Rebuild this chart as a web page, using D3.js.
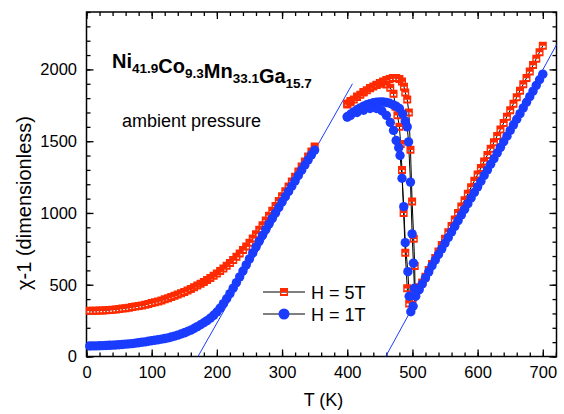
<!DOCTYPE html>
<html>
<head>
<meta charset="utf-8">
<script src="https://cdn.jsdelivr.net/npm/d3@7"></script>
<style>
body { margin: 0; background: #fff; }
text { font-family: "Liberation Sans", Arial, Helvetica, sans-serif; fill: #000; }
</style>
</head>
<body>
<script>
// ---- data (T in K, chi^-1 dimensionless) ----
// low temperature run, both fields
var tLow = [5,10,15,20,25,30,35,40,45,50, 55,60,65,70,75,80,85,90,95,100,
            105,110,115,120,125,130,135,140,145,150, 155,160,165,170,175,180,185,190,195,200,
            205,210,215,220,225,230,235,240,245,250, 255,260,265,270,275,280,285,290,295,300,
            305,310,315,320,325,330,335,340,345,350];
var red5TLow = [318,318,319,320,321,322,324,326,328,331, 334,337,340,344,348,352,356,361,366,372,
                378,384,391,398,406,414,423,432,441,450, 460,471,482,494,506,519,533,547,562,578,
                595,613,632,652,673,695,718,742,767,793, 822,852,883,915,948,981,1015,1049,1083,1117,
                1151,1185,1219,1253,1288,1323,1358,1393,1428,1463];
var blue1TLow = [73,74,74,75,76,77,78,79,80,82, 84,86,88,90,93,96,99,102,106,110,
                 113,117,121,125,130,136,142,149,157,165, 174,184,195,208,221,235,250,267,287,310,
                 337,368,402,438,476,515,555,596,638,680, 722,763,804,844,884,923,962,1000,1038,1076,
                 1113,1150,1187,1224,1261,1298,1334,1370,1405,1438];

// high temperature run, H = 5T : heating then cooling
var tRedHeat = [400,405,410,415,420,425,430,435,440,445,450,455,460,465,470,475,480,484,487,489,
                492,494.5,497,499.5,502,503.5,504,
                510,515,520,525,530,535,540,545,550,555,560,565,570,575,580,585,590,595,600,
                605,610,615,620,625,630,635,640,645,650,655,660,665,670,675,680,685,690,695,700];
var red5THeat = [1755,1772,1790,1807,1823,1839,1854,1868,1881,1893,1905,1916,1926,1934,1940,1941,1934,1915,1880,1840,
                 1790,1700,1440,1079,820,630,470,
                 480,515,556,602,645,686,731,776,821,866,910,955,1000,1045,1089,1134,1179,1224,1268,
                 1313,1358,1403,1448,1492,1537,1582,1627,1671,1716,1761,1806,1851,1896,1940,1985,2030,2075,2120,2165];
var tRedCool = [510,505,500,495,492,489,486.5,484,482,480,477,474,471,466,460,452,445,435,425,415,405,400];
var red5TCool = [480,440,400,370,475,723,1000,1300,1480,1600,1680,1740,1830,1872,1895,1900,1892,1870,1843,1812,1780,1763];

// high temperature run, H = 1T : heating then cooling
var tBlueHeat = [400,405,410,415,420,425,430,435,440,445,450,455,460,465,470,475,480,485,489,492,
                 494,497,499.5,501.5,503,
                 510,515,520,525,530,535,540,545,550,555,560,565,570,575,580,585,590,595,600,
                 605,610,615,620,625,630,635,640,645,650,655,660,665,670,675,680,685,690,695,700];
var blue1THeat = [1670,1688,1704,1719,1732,1744,1754,1762,1768,1772,1774,1773,1770,1764,1755,1743,1728,1690,1640,1600,
                  1495,1215,854,650,475,
                  465,505,548,590,632,672,711,750,790,829,868,907,947,986,1025,1064,1104,1143,1182,
                  1221,1261,1300,1339,1378,1418,1457,1496,1535,1575,1614,1653,1692,1732,1771,1810,1849,1889,1928,1967];
var tBlueCool = [510,505,501,497.5,495,493,489,486.7,484,481,479,475,471,466,460,453,445,435,425,415,405,400];
var blue1TCool = [465,420,350,312,420,591,793,1044,1242,1400,1455,1505,1575,1630,1680,1712,1728,1728,1716,1700,1680,1668];

// Curie-Weiss fit lines (end points)
var fitLowT = [171, 408], fitLowV = [0, 1900];
var fitHighT = [459, 721], fitHighV = [0, 2172];

var xTicks = [0,100,200,300,400,500,600,700];
var yTicks = [0,500,1000,1500,2000];

var legendNames = ["H = 5T", "H = 1T"];

// ---- layout ----
var width = 564, height = 414;
var plotLeft = 86.5, plotRight = 556.5, plotTop = 12, plotBottom = 356.5;
var redCol = "#ff2a00", blueCol = "#1a3cff";

var svg = d3.select("body").append("svg")
    .attr("width", width)
    .attr("height", height);

var x = d3.scaleLinear().domain([0, 721]).range([plotLeft, plotRight]);
var y = d3.scaleLinear().domain([0, 2400]).range([plotBottom, plotTop]);

function pairs(ts, vs) {
    return ts.map(function(t, i) { return [t, vs[i]]; });
}

var line = d3.line()
    .x(function(d) { return x(d[0]); })
    .y(function(d) { return y(d[1]); });

// axes (ticks pointing inward)
var xMinor = d3.range(0, 721, 20);
var yMinor = d3.range(0, 2401, 100);

function axisGroup(axis, tx, ty) {
    var g = svg.append("g")
        .attr("transform", "translate(" + tx + "," + ty + ")")
        .call(axis);
    g.select(".domain").remove();
    g.selectAll(".tick line").attr("stroke", "#000").attr("stroke-width", 1.3);
    return g;
}

var xAxis = axisGroup(d3.axisBottom(x).tickValues(xTicks).tickSize(-7).tickPadding(10).tickFormat(d3.format("d")), 0, plotBottom);
xAxis.selectAll("text").style("font-size", "16.5px").attr("fill", "#000");
axisGroup(d3.axisBottom(x).tickValues(xMinor).tickSize(-4).tickFormat(""), 0, plotBottom);
axisGroup(d3.axisTop(x).tickValues(xTicks).tickSize(-7).tickFormat(""), 0, plotTop);
axisGroup(d3.axisTop(x).tickValues(xMinor).tickSize(-4).tickFormat(""), 0, plotTop);

var yAxis = axisGroup(d3.axisLeft(y).tickValues(yTicks).tickSize(-7).tickPadding(9.5).tickFormat(d3.format("d")), plotLeft, 0);
yAxis.selectAll("text").style("font-size", "16.5px").attr("fill", "#000");
axisGroup(d3.axisLeft(y).tickValues(yMinor).tickSize(-4).tickFormat(""), plotLeft, 0);
axisGroup(d3.axisRight(y).tickValues(yTicks).tickSize(-7).tickFormat(""), plotRight, 0);
axisGroup(d3.axisRight(y).tickValues(yMinor).tickSize(-4).tickFormat(""), plotRight, 0);

svg.append("rect")
    .attr("x", plotLeft).attr("y", plotTop)
    .attr("width", plotRight - plotLeft).attr("height", plotBottom - plotTop)
    .attr("fill", "none").attr("stroke", "#000").attr("stroke-width", 1.5);

// axis titles
svg.append("text")
    .attr("x", (plotLeft + plotRight) / 2 + 2).attr("y", 406)
    .attr("text-anchor", "middle")
    .style("font-size", "18px")
    .text("T (K)");

svg.append("text")
    .attr("transform", "translate(31,203) rotate(-90)")
    .attr("text-anchor", "middle")
    .style("font-size", "20px")
    .text("χ-1 (dimensionless)");

// fit lines
[pairs(fitLowT, fitLowV), pairs(fitHighT, fitHighV)].forEach(function(d) {
    svg.append("path").datum(d)
        .attr("d", line)
        .attr("fill", "none")
        .attr("stroke", blueCol)
        .attr("stroke-width", 1);
});

// black connecting lines
var redSets = [pairs(tLow, red5TLow), pairs(tRedHeat, red5THeat), pairs(tRedCool, red5TCool)];
var blueSets = [pairs(tLow, blue1TLow), pairs(tBlueHeat, blue1THeat), pairs(tBlueCool, blue1TCool)];

redSets.concat(blueSets).forEach(function(d) {
    svg.append("path").datum(d)
        .attr("d", line)
        .attr("fill", "none")
        .attr("stroke", "#000")
        .attr("stroke-width", 1);
});

// markers
var squarePath = "M-4,-4h8v8h-8z M-2.6,0.1h5.2v1.9h-5.2z";

redSets.forEach(function(d) {
    svg.append("g").selectAll("path")
        .data(d)
        .enter()
      .append("path")
        .attr("transform", function(p) { return "translate(" + x(p[0]) + "," + y(p[1]) + ")"; })
        .attr("d", squarePath)
        .attr("fill-rule", "evenodd")
        .attr("fill", redCol);
});

blueSets.forEach(function(d) {
    svg.append("g").selectAll("circle")
        .data(d)
        .enter()
      .append("circle")
        .attr("cx", function(p) { return x(p[0]); })
        .attr("cy", function(p) { return y(p[1]); })
        .attr("r", 4.7)
        .attr("fill", blueCol);
});

// title and annotation
var title = svg.append("text")
    .attr("x", 112).attr("y", 68)
    .style("font-size", "20px")
    .style("font-weight", "bold");
[["Ni", "41.9"], ["Co", "9.3"], ["Mn", "33.1"], ["Ga", "15.7"]].forEach(function(p) {
    title.append("tspan").text(p[0]);
    title.append("tspan").attr("dy", 5).style("font-size", "13.5px").text(p[1]);
    title.append("tspan").attr("dy", -5).text("");
});

svg.append("text")
    .attr("x", 122).attr("y", 127)
    .style("font-size", "18px")
    .text("ambient pressure");

// legend
var legend = svg.append("g");
legendNames.forEach(function(name, i) {
    var ly = 292 + i * 22;
    legend.append("line")
        .attr("x1", 263).attr("x2", 305)
        .attr("y1", ly).attr("y2", ly)
        .attr("stroke", "#000").attr("stroke-width", 1);
    if (i === 0) {
        legend.append("path")
            .attr("transform", "translate(284," + ly + ")")
            .attr("d", squarePath)
            .attr("fill-rule", "evenodd")
            .attr("fill", redCol);
    } else {
        legend.append("circle")
            .attr("cx", 284).attr("cy", ly).attr("r", 5.5)
            .attr("fill", blueCol);
    }
    legend.append("text")
        .attr("x", 311).attr("y", ly + 6.5)
        .style("font-size", "18px")
        .text(name);
});
</script>
</body>
</html>
